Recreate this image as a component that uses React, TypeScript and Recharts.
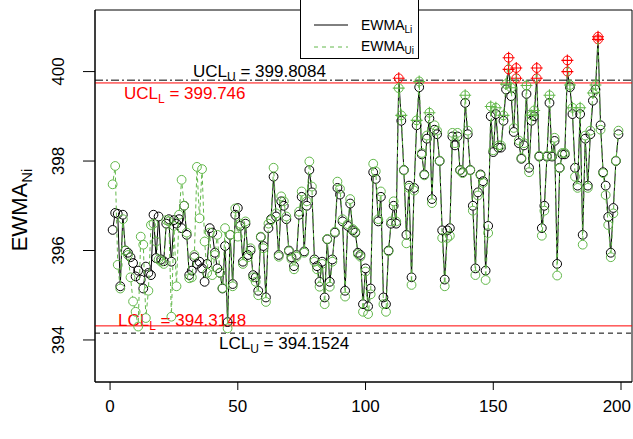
import React from 'react';
import { ComposedChart, Line, XAxis, YAxis, ReferenceLine, ReferenceArea } from 'recharts';

const UCL_U = 399.8084;
const UCL_L = 399.746;
const LCL_L = 394.3148;
const LCL_U = 394.1524;

const ewmaL = [
  396.46, 396.84, 396.82, 395.2, 396.8, 396.0, 395.95, 395.85, 395.72, 395.42,
  395.55, 395.35, 395.15, 395.64, 395.5, 395.45, 396.8, 395.83, 396.76, 395.8,
  395.76, 396.6, 396.7, 395.75, 396.68, 396.6, 396.7, 396.5, 397.0, 396.35,
  395.45, 395.55, 395.85, 395.7, 395.75, 395.6, 395.3, 395.7, 396.5, 396.4,
  395.95, 395.6, 395.5, 395.15, 396.1, 394.4, 396.35, 395.25, 396.8, 396.95,
  396.55, 395.75, 396.6, 395.9, 396.0, 395.45, 395.4, 395.1, 396.3, 396.1,
  394.95, 396.5, 396.7, 397.65, 396.76, 395.9, 397.1, 397.0, 396.7, 396.0,
  395.85, 395.65, 395.9, 396.8, 397.2, 395.98, 397.0, 397.8, 397.3, 395.8,
  395.65, 395.3, 395.75, 394.95, 396.25, 395.3, 395.8, 396.4, 397.4, 397.25,
  396.65, 395.1, 396.55, 397.05, 396.45, 396.4, 395.95, 395.9, 394.8, 395.6,
  394.75, 395.15, 397.75, 397.6, 396.65, 397.2, 394.95, 394.8, 396.0, 396.6,
  397.0, 396.6, 399.85, 398.9, 397.8, 396.35, 397.45, 395.4, 397.4, 398.8,
  399.65, 398.15, 397.7, 398.5, 398.95, 397.15, 398.7, 398.6, 398.0, 396.45,
  395.35, 396.45, 396.5, 398.55, 398.35, 398.55, 397.8, 397.75, 399.3, 398.6,
  397.8, 397.0, 395.6, 397.3, 397.7, 397.55, 395.55, 396.55, 399.0, 398.2,
  399.05, 398.3, 398.3, 398.9, 399.6, 400.05, 399.45, 398.65, 399.85, 398.4,
  398.05, 398.35, 399.5, 397.85, 398.9, 399.0, 399.85, 398.1, 396.5, 397.0,
  398.1, 399.3, 398.1, 398.45, 395.7, 397.85, 398.15, 398.15, 400.0, 399.65,
  399.05, 397.85, 397.45, 399.05, 396.35, 398.5, 397.45, 398.6, 399.35, 399.6,
  400.72, 398.8, 397.75, 397.45, 396.75, 395.95, 396.95, 398.0, 398.6,
];

const ewmaU = [
  397.48, 397.89, 395.68, 395.15, 396.7, 396.0, 395.9, 395.4, 394.86, 394.63,
  394.3, 396.31, 396.13, 394.49, 395.1, 396.57, 396.6, 396.2, 395.8, 395.75,
  395.7, 396.68, 396.65, 394.52, 396.55, 395.2, 396.8, 397.58, 397.0, 396.4,
  395.38, 395.4, 395.9, 397.87, 396.72, 397.82, 396.2, 395.5, 396.4, 395.45,
  395.9, 396.35, 395.5, 395.16, 396.5, 394.26, 396.35, 395.2, 396.94, 396.31,
  396.6, 395.7, 396.65, 395.85, 396.05, 395.4, 395.3, 395.0, 396.31, 396.05,
  394.85, 396.6, 396.68, 397.85, 396.83, 395.86, 397.21, 397.1, 396.76, 395.98,
  395.81, 395.58, 395.86, 396.87, 397.32, 395.95, 397.1, 397.99, 397.43, 395.75,
  395.58, 395.19, 395.7, 394.8, 396.26, 395.19, 395.75, 396.42, 397.54, 397.38,
  396.7, 394.97, 396.59, 397.15, 396.48, 396.42, 395.92, 395.86, 394.63, 395.53,
  394.58, 395.02, 397.94, 397.77, 396.7, 397.32, 394.8, 394.63, 395.98, 396.65,
  397.1, 396.65, 399.63, 399.02, 397.79, 396.16, 397.4, 395.23, 397.34, 398.91,
  399.78, 398.18, 397.68, 398.57, 399.08, 397.06, 398.8, 398.68, 398.01, 396.28,
  395.2, 396.28, 396.33, 398.63, 398.4, 398.63, 397.79, 397.73, 399.47, 398.68,
  397.79, 396.89, 395.45, 397.23, 397.68, 397.51, 395.34, 396.39, 399.22, 398.24,
  399.19, 398.35, 398.35, 399.02, 399.72, 400.31, 399.64, 398.74, 400.08, 398.46,
  398.07, 398.4, 399.69, 397.75, 399.02, 399.13, 400.08, 398.12, 396.33, 396.89,
  398.12, 399.47, 398.12, 398.52, 395.44, 397.84, 398.18, 398.18, 400.25, 399.7,
  399.19, 397.65, 397.4, 399.19, 396.13, 398.57, 397.4, 398.68, 399.52, 399.7,
  400.78, 398.7, 397.73, 397.24, 396.57, 395.85, 396.83, 398.01, 398.68,
];

const sampleIndex = ewmaL.map((_, k) => k + 1);
const xTicks = [0, 50, 100, 150, 200];
const yTicks = [394, 396, 398, 400];

const data = sampleIndex.map((i, k) => ({ i, L: ewmaL[k], U: ewmaU[k] }));

const FONT = '"Liberation Sans", Arial, Helvetica, sans-serif';
const GREEN = '#62b84a';
const RED = '#ff0000';
const GREEN_PLUS_LEVEL = 398.85;
const R = 4.4;
const GAP = 4.6;

const X_DOMAIN: [number, number] = [-5.9, 204.3];
const Y_DOMAIN: [number, number] = [393.06, 401.377];

function Plus({ cx, cy, color }: { cx: number; cy: number; color: string }) {
  return (
    <path
      d={`M${cx - 6},${cy}H${cx + 6}M${cx},${cy - 6}V${cy + 6}`}
      stroke={color}
      strokeWidth={1.1}
      fill="none"
    />
  );
}

function Seg({ points, index, cx, cy, color, dash }: any) {
  if (!points) return null;
  const nxt = points[index + 1];
  if (!nxt || nxt.x == null || nxt.y == null) return null;
  const dx = nxt.x - cx;
  const dy = nxt.y - cy;
  const d = Math.hypot(dx, dy);
  if (d <= 2 * GAP) return null;
  const ux = dx / d;
  const uy = dy / d;
  return (
    <line
      x1={cx + ux * GAP}
      y1={cy + uy * GAP}
      x2={nxt.x - ux * GAP}
      y2={nxt.y - uy * GAP}
      stroke={color}
      strokeWidth={1}
      strokeDasharray={dash}
    />
  );
}

const LDot = (props: any) => {
  const { cx, cy, payload, index, points } = props;
  if (cx == null || cy == null) return <g key={`l${index}`} />;
  const out = payload.L > UCL_L;
  return (
    <g key={`l${index}`}>
      <Seg points={points} index={index} cx={cx} cy={cy} color="#000" />
      <circle cx={cx} cy={cy} r={R} fill="none" stroke={out ? RED : '#000'} strokeWidth={1} />
      {out && <Plus cx={cx} cy={cy} color={RED} />}
    </g>
  );
};

const UDot = (props: any) => {
  const { cx, cy, payload, index, points } = props;
  if (cx == null || cy == null) return <g key={`u${index}`} />;
  const out = payload.U > UCL_U;
  const high = payload.U > GREEN_PLUS_LEVEL;
  return (
    <g key={`u${index}`}>
      <Seg points={points} index={index} cx={cx} cy={cy} color={GREEN} dash="4 3" />
      <circle cx={cx} cy={cy} r={R} fill="none" stroke={out ? RED : GREEN} strokeWidth={1} />
      {out ? <Plus cx={cx} cy={cy} color={RED} /> : high ? <Plus cx={cx} cy={cy} color={GREEN} /> : null}
    </g>
  );
};

const XTick = (props: any) => {
  const { x, y, payload } = props;
  const last = payload.value === xTicks[xTicks.length - 1];
  return (
    <text
      x={last ? Math.min(x + 14, 631) : x}
      y={y + 22}
      textAnchor={last ? 'end' : 'middle'}
      fontSize={17}
      fontFamily={FONT}
      fill="#000"
    >
      {payload.value}
    </text>
  );
};

const YTick = (props: any) => {
  const { y, payload } = props;
  const cx = 64;
  return (
    <text
      x={cx}
      y={y}
      transform={`rotate(-90, ${cx}, ${y})`}
      textAnchor="middle"
      fontSize={17}
      fontFamily={FONT}
      fill="#000"
    >
      {payload.value}
    </text>
  );
};

const Anno = (props: any) => {
  const { viewBox, main, sub, rest, color, dx, dy } = props;
  const x = viewBox.x + dx;
  const y = viewBox.y + dy;
  return (
    <text x={x} y={y} fill={color} fontSize={17} fontFamily={FONT}>
      {main}
      <tspan fontSize={12} dy={4}>{sub}</tspan>
      <tspan dy={-4}>{rest}</tspan>
    </text>
  );
};

function LegendBox() {
  return (
    <svg width={120} height={62} style={{ position: 'absolute', left: 300, top: -2 }}>
      <rect x={0.5} y={0.5} width={118} height={60} fill="#fff" stroke="#000" strokeWidth={1} />
      <line x1={14} y1={27} x2={48} y2={27} stroke="#000" strokeWidth={1} />
      <line x1={14} y1={49} x2={48} y2={49} stroke={GREEN} strokeWidth={1} strokeDasharray="4 4" />
      <text x={61} y={32} fontSize={14} fontFamily={FONT} fill="#000">
        EWMA<tspan fontSize={10} dy={3}>Li</tspan>
      </text>
      <text x={61} y={53} fontSize={14} fontFamily={FONT} fill="#000">
        EWMA<tspan fontSize={10} dy={3}>Ui</tspan>
      </text>
    </svg>
  );
}

export default function App() {
  return (
    <div style={{ position: 'absolute', left: 0, top: 0, width: 633, height: 439, background: '#fff' }}>
      <ComposedChart
        width={633}
        height={439}
        data={data}
        margin={{ top: 10, right: 1, bottom: 0, left: 0 }}
      >
        <XAxis
          dataKey="i"
          type="number"
          domain={X_DOMAIN}
          ticks={xTicks}
          allowDataOverflow
          height={57}
          tickSize={8}
          tickMargin={0}
          tickLine={{ stroke: '#000' }}
          axisLine={{ stroke: '#000' }}
          tick={<XTick />}
          interval={0}
        />
        <YAxis
          type="number"
          domain={Y_DOMAIN}
          ticks={yTicks}
          allowDataOverflow
          width={95}
          tickSize={12}
          tickMargin={0}
          tickLine={{ stroke: '#000' }}
          axisLine={{ stroke: '#000' }}
          tick={<YTick />}
          interval={0}
        />
        <ReferenceArea
          x1={X_DOMAIN[0]}
          x2={X_DOMAIN[1]}
          y1={Y_DOMAIN[0]}
          y2={Y_DOMAIN[1]}
          fill="none"
          stroke="#000"
          strokeWidth={1}
          ifOverflow="visible"
        />
        <ReferenceLine
          y={UCL_U}
          stroke="#000"
          strokeDasharray="8 3 2 3"
          label={<Anno main="UCL" sub="U" rest=" = 399.8084" color="#000" dx={98} dy={-3} />}
        />
        <ReferenceLine
          y={UCL_L}
          stroke={RED}
          label={<Anno main="UCL" sub="L" rest=" = 399.746" color={RED} dx={29} dy={16} />}
        />
        <ReferenceLine
          y={LCL_L}
          stroke={RED}
          label={<Anno main="LCL" sub="L" rest=" = 394.3148" color={RED} dx={23} dy={0} />}
        />
        <ReferenceLine
          y={LCL_U}
          stroke="#000"
          strokeDasharray="5 4"
          label={<Anno main="LCL" sub="U" rest=" = 394.1524" color="#000" dx={124} dy={16} />}
        />
        <Line
          dataKey="L"
          stroke="none"
          dot={LDot}
          activeDot={false}
          isAnimationActive={false}
        />
        <Line
          dataKey="U"
          stroke="none"
          dot={UDot}
          activeDot={false}
          isAnimationActive={false}
        />
      </ComposedChart>
      <svg width={40} height={260} style={{ position: 'absolute', left: 0, top: 90 }}>
        <text
          x={27}
          y={120}
          transform="rotate(-90, 27, 120)"
          textAnchor="middle"
          fontSize={22}
          fontFamily={FONT}
          fill="#000"
        >
          EWMA<tspan fontSize={15} dy={5}>Ni</tspan>
        </text>
      </svg>
      <LegendBox />
    </div>
  );
}
